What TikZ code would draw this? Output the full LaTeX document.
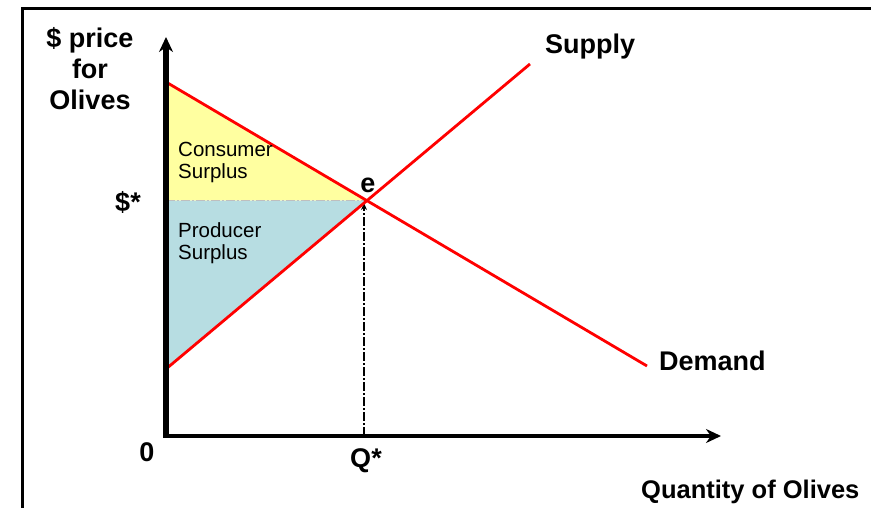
\documentclass[tikz,border=0pt]{standalone}
\usepackage{fontspec}
\setmainfont{Liberation Sans}
\usetikzlibrary{arrows.meta}
\definecolor{csyellow}{RGB}{255,255,160}
\definecolor{psblue}{RGB}{183,221,226}
\definecolor{curvered}{RGB}{255,0,0}
\tikzset{
  big/.style={font=\fontsize{27}{31}\selectfont\bfseries, inner sep=0pt},
  small/.style={font=\fontsize{20.5}{22}\selectfont, align=left, inner sep=0pt},
  axisline/.style={line width=5.5pt, -{Stealth[length=15pt,width=14pt]}},
  curve/.style={curvered, line width=2.8pt},
  guide/.style={black, line width=1.4pt, dash pattern=on 9pt off 2pt on 2pt off 2pt},
  pguide/.style={black!25, line width=1.4pt, dash pattern=on 9pt off 2pt on 2pt off 2pt},
  frame/.style={line width=3pt}
}
\begin{document}
\begin{tikzpicture}[x=1pt,y=-1pt]
\useasboundingbox (0,0) rectangle (871,508);
% frame
\coordinate (FB) at (22,508);
\coordinate (FT) at (872,9);
\draw[frame] (FB) |- (FT);
% key points
\coordinate (O) at (166,436);
\coordinate (YT) at (166,37);
\coordinate (XT) at (721,436);
\coordinate (D1) at (166,82);
\coordinate (D2) at (647,366);
\coordinate (S1) at (166,369);
\coordinate (S2) at (530,64);
\coordinate (E) at (366.9,200.6);
\coordinate (PS) at (166,200.6);
\coordinate (QS) at (364,436);
% fills
\fill[csyellow] (D1) -- (E) -- (PS) -- cycle;
\fill[psblue] (PS) -- (E) -- (S1) -- cycle;
% guides
\draw[pguide] (PS) -- (E);
\draw[guide, -{Stealth[length=7pt,width=6pt]}] (QS) -- (364,203);
% curves
\draw[curve] (D1) -- (D2);
\draw[curve] (S1) -- (S2);
% axes
\draw[axisline] ([yshift=2pt]O) -- (YT);
\draw[line width=4.5pt, -{Stealth[length=15pt,width=14pt]}] ([xshift=-2.75pt]O) -- (XT);
% labels
\node[big, align=center] (ylab) at (90,69) {\$ price\\for\\Olives};
\node[big] (pstar) at (128,202) {\$*};
\node[big] (zero) at (147,452) {0};
\node[big] (qstar) at (366,461) {Q*};
\node[big] (elab) at (368,185) {e};
\node[big, anchor=west] (supply) at (545,47) {Supply};
\node[big, anchor=west] (demand) at (659,361) {Demand};
\node[big, anchor=west, font=\fontsize{25.5}{30}\selectfont\bfseries] (xlab) at (641,492) {Quantity of Olives};
\node[small, anchor=north west] (cs) at (178,142) {Consumer\\Surplus};
\node[small, anchor=north west] (ps) at (178,222) {Producer\\Surplus};
\end{tikzpicture}
\end{document}
